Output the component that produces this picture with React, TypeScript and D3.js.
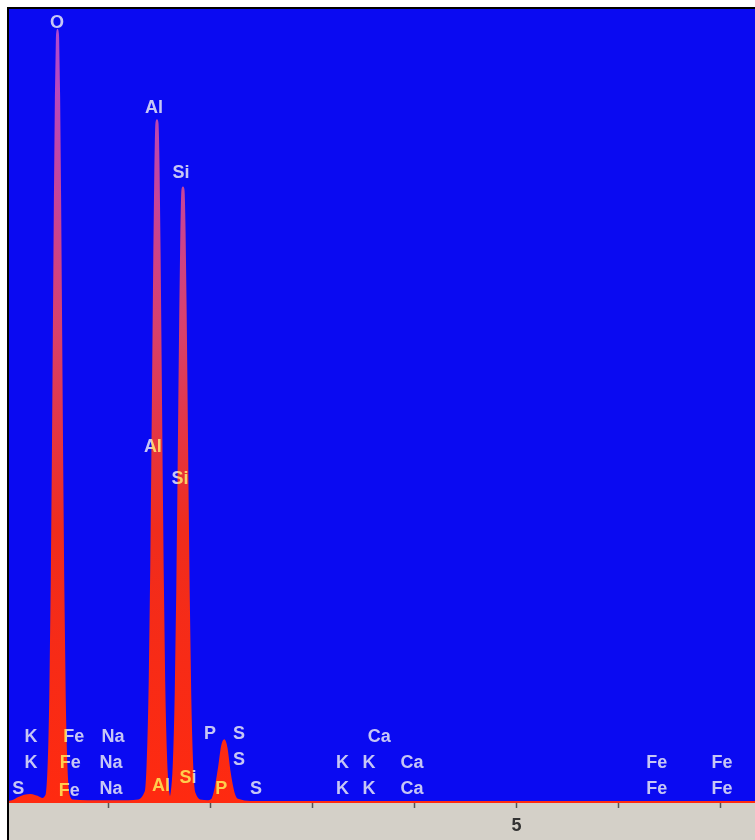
import React, { useEffect, useRef } from "react";
import * as d3 from "d3";

const WIDTH = 755;
const HEIGHT = 840;
const PLOT = { left: 9, top: 9, right: 755, bottom: 803 };

// spectrum: energy in keV, counts in arbitrary units
const energy = [
  0.0, 0.06, 0.12, 0.18, 0.24, 0.3, 0.36,
  0.395, 0.415, 0.435, 0.45, 0.46, 0.47, 0.48, 0.49, 0.5, 0.505, 0.51, 0.52, 0.53, 0.54, 0.55, 0.56, 0.575, 0.595, 0.615,
  0.65, 0.8, 1.0, 1.2, 1.3,
  1.37, 1.39, 1.41, 1.425, 1.435, 1.445, 1.455, 1.465, 1.475, 1.48, 1.485, 1.495, 1.505, 1.515, 1.525, 1.535, 1.55, 1.57, 1.59,
  1.607,
  1.625, 1.645, 1.665, 1.68, 1.69, 1.7, 1.71, 1.72, 1.73, 1.735, 1.74, 1.75, 1.76, 1.77, 1.78, 1.79, 1.805, 1.825, 1.845,
  1.9, 1.98,
  2.02, 2.05, 2.09, 2.12, 2.14, 2.16, 2.19, 2.23, 2.27,
  2.4, 3.0, 3.3, 3.6, 4.0, 5.0, 6.0, 6.4, 7.0, 7.4,
];
const counts = [
  1, 2, 6, 9, 10, 8, 5,
  9, 36, 132, 283, 426, 590, 755, 890, 965, 975, 965, 890, 755, 590, 426, 283, 132, 36, 9,
  3, 2, 2, 2, 3,
  14, 51, 153, 296, 421, 559, 692, 798, 856, 861, 856, 798, 692, 559, 421, 296, 153, 51, 14,
  5,
  13, 46, 138, 267, 379, 504, 624, 719, 772, 776, 772, 719, 624, 504, 379, 267, 138, 46, 13,
  3, 2,
  4, 15, 45, 72, 79, 70, 40, 13, 4,
  1, 1, 1, 1, 1, 1, 1, 1, 1, 1,
];

const tickValues = [1, 2, 3, 4, 5, 6, 7];
const tickLabels = ["", "", "", "", "5", "", ""];

// element markers: name, energy position (keV), height (counts)
const labelNames = [
  "O", "Al", "Si", "Al", "Si",
  "K", "Fe", "Na", "P", "S", "Ca",
  "K", "Fe", "Na", "S", "K", "K", "Ca", "Fe", "Fe",
  "S", "Fe", "Na", "Al", "Si", "P", "S", "K", "K", "Ca", "Fe", "Fe",
];
const labelEnergy = [
  0.5, 1.45, 1.715, 1.44, 1.705,
  0.245, 0.665, 1.05, 2.0, 2.285, 3.66,
  0.245, 0.63, 1.03, 2.285, 3.3, 3.56, 3.98, 6.38, 7.02,
  0.12, 0.62, 1.03, 1.52, 1.785, 2.11, 2.45, 3.3, 3.56, 3.98, 6.38, 7.02,
];
const labelLevel = [
  985, 878, 796, 450, 410,
  85, 85, 85, 88, 88, 85,
  52, 52, 52, 55, 52, 52, 52, 52, 52,
  19, 17, 19, 23, 33, 19, 19, 19, 19, 19, 19, 19,
];

export default function App() {
  const ref = useRef<SVGSVGElement>(null);

  useEffect(() => {
    const svg = d3.select(ref.current);
    svg.selectAll("*").remove();

    const x = d3.scaleLinear().domain([0, 7.353]).range([6, 756]);
    const y = d3.scaleLinear().domain([0, 1000]).range([PLOT.bottom, 10]);

    const defs = svg.append("defs");
    defs.append("clipPath").attr("id", "plotclip")
      .append("rect")
      .attr("x", PLOT.left).attr("y", PLOT.top)
      .attr("width", PLOT.right - PLOT.left).attr("height", PLOT.bottom - PLOT.top);

    const grad = defs.append("linearGradient")
      .attr("id", "peakfill")
      .attr("gradientUnits", "userSpaceOnUse")
      .attr("x1", 0).attr("x2", 0).attr("y1", 20).attr("y2", PLOT.bottom);
    grad.append("stop").attr("offset", "0").attr("stop-color", "#b04ad4");
    grad.append("stop").attr("offset", "0.4").attr("stop-color", "#d8406a");
    grad.append("stop").attr("offset", "0.65").attr("stop-color", "#f02c1c");
    grad.append("stop").attr("offset", "1").attr("stop-color", "#ff2a10");

    // frame
    svg.append("rect").attr("x", 7).attr("y", 7)
      .attr("width", WIDTH).attr("height", HEIGHT).attr("fill", "#000");
    svg.append("rect").attr("x", PLOT.left).attr("y", PLOT.top)
      .attr("width", PLOT.right - PLOT.left).attr("height", PLOT.bottom - PLOT.top)
      .attr("fill", "#0a0af2");
    svg.append("rect").attr("x", PLOT.left).attr("y", PLOT.bottom)
      .attr("width", PLOT.right - PLOT.left).attr("height", HEIGHT - PLOT.bottom)
      .attr("fill", "#d4d0c8");

    const idx = d3.range(energy.length);
    const area = d3.area<number>()
      .x(i => x(energy[i]))
      .y0(y(0))
      .y1(i => y(counts[i]))
      .curve(d3.curveMonotoneX);

    svg.append("g").attr("clip-path", "url(#plotclip)")
      .append("path")
      .datum(idx)
      .attr("d", area)
      .attr("fill", "url(#peakfill)")
      .attr("stroke", "url(#peakfill)")
      .attr("stroke-width", 2.2)
      .attr("stroke-linejoin", "round");

    // x axis
    const axis = svg.append("g")
      .attr("transform", `translate(0,${PLOT.bottom})`)
      .call(
        d3.axisBottom(x)
          .tickValues(tickValues)
          .tickSize(5)
          .tickPadding(10)
          .tickFormat((d, i) => tickLabels[i])
      );
    axis.select(".domain").remove();
    axis.selectAll(".tick line").attr("stroke", "#555").attr("stroke-width", 1.5);
    axis.selectAll(".tick text")
      .attr("fill", "#333")
      .attr("font-family", "Liberation Sans, Arial, sans-serif")
      .attr("font-size", 18)
      .attr("font-weight", "bold");

    // element labels
    svg.append("g")
      .selectAll("text")
      .data(labelNames)
      .join("text")
      .attr("x", (d, i) => x(labelEnergy[i]))
      .attr("y", (d, i) => y(labelLevel[i]))
      .attr("text-anchor", "middle")
      .attr("dominant-baseline", "central")
      .attr("font-family", "Liberation Sans, Arial, sans-serif")
      .attr("font-size", 18)
      .attr("font-weight", "bold")
      .attr("fill", "#c4c440")
      .style("mix-blend-mode", "screen")
      .text(d => d);
  }, []);

  return (
    <svg
      ref={ref}
      width={WIDTH}
      height={HEIGHT}
      style={{ position: "absolute", left: 0, top: 0, background: "#fff" }}
    />
  );
}
